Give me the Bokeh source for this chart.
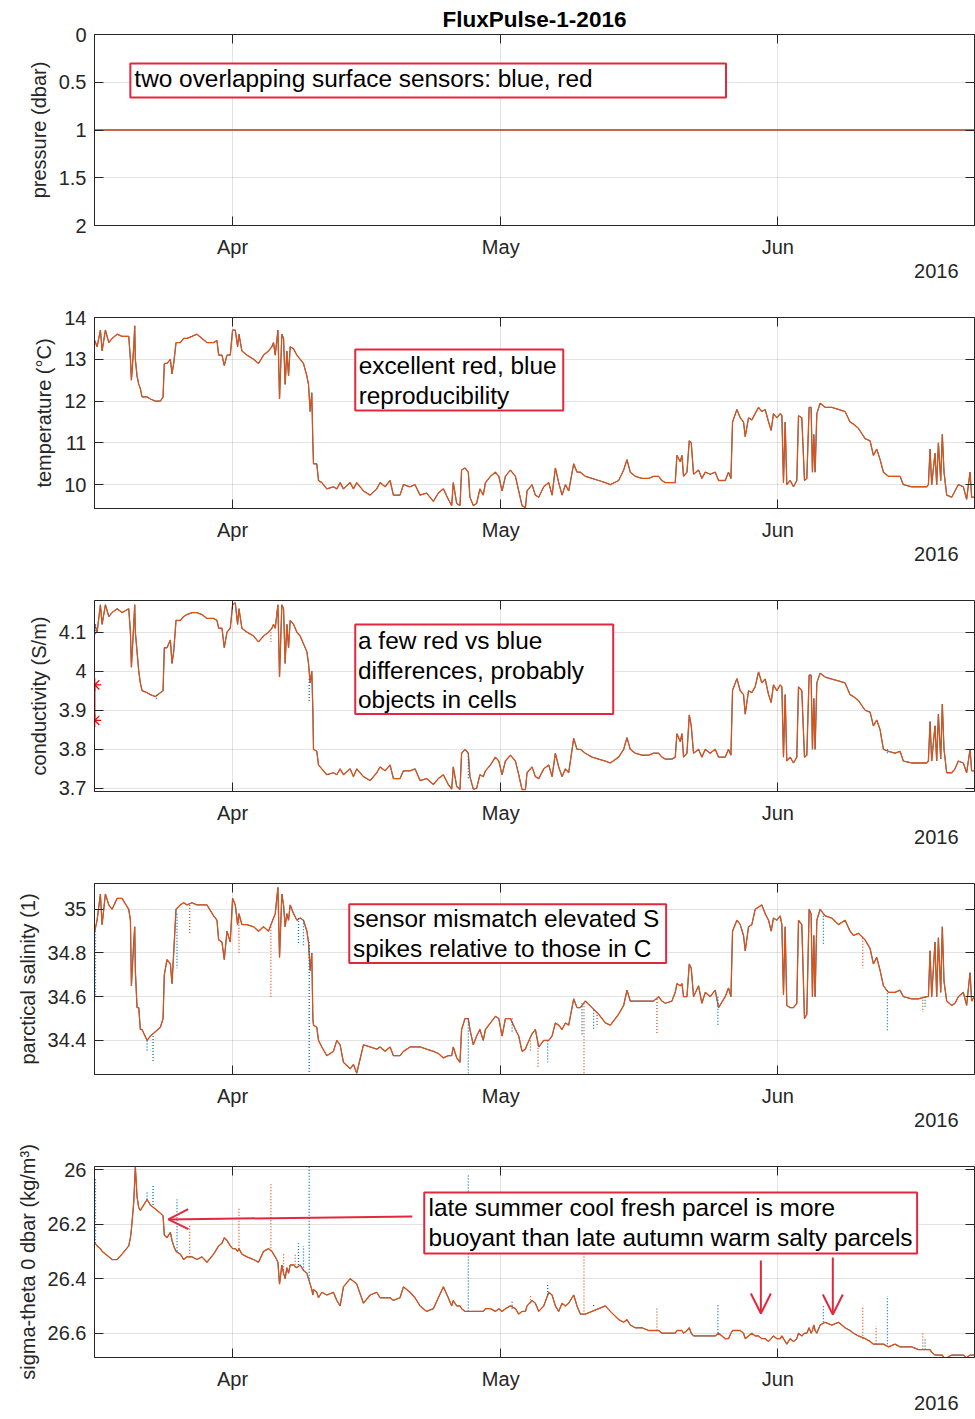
import numpy as np
import pandas as pd
from bokeh.plotting import figure
from bokeh.layouts import column
from bokeh.models import (Range1d, FixedTicker, CustomJSTickFormatter, DatetimeTickFormatter,
                          LinearAxis, DatetimeAxis, BoxAnnotation, Label, Arrow, OpenHead, Title)
from bokeh.embed import file_html
from bokeh.resources import INLINE

# ---------------- data (time in days from 2016-04-01 00:00) ----------------
t_left = [-15.42, -15.16, -14.79, -14.6, -14.23, -13.85, -13.48, -12.92, -12.37, -11.62,
          -11.43, -11.32, -11.06, -10.95, -10.88, -10.69, -10.5, -10.32, -10.13, -9.57,
          -9.2, -8.64, -8.08, -7.78, -7.64, -7.34, -6.96, -6.78, -6.59, -6.33,
          -5.85, -5.47, -5.1, -4.54, -3.99, -3.43, -2.87, -2.12, -1.75, -1.56,
          -1.19, -0.93, -0.63, -0.26, 0.0, 0.3, 0.56, 0.71, 1.04, 1.6,
          2.35, 2.9, 3.46, 4.02, 4.39, 4.58, 4.77, 5.07, 5.25, 5.51,
          5.7, 5.88, 6.07, 6.26, 6.44, 6.82, 7.19, 7.56, 7.93, 8.31,
          8.49, 8.68, 8.86, 8.98, 9.05, 9.42, 9.61, 9.98, 10.54, 11.28,
          11.66, 12.03, 12.4, 13.15, 13.52, 13.89, 14.64, 15.38, 16.13, 16.5,
          17.06, 17.62, 17.99, 18.73, 19.11, 19.85, 20.41, 20.97, 21.71, 22.46,
          23.02, 23.58, 24.13, 24.51, 24.69, 25.07, 25.44, 25.62, 26.0, 26.37,
          26.55, 26.93, 27.3, 27.67, 28.04]
t_right = [28.29, 28.85, 29.4, 29.78, 30.15, 30.52, 31.08, 31.64, 32.01, 32.38,
           32.76, 32.94, 33.5, 33.87, 34.25, 34.81, 35.37, 35.74, 36.11, 36.48,
           36.86, 37.23, 37.6, 38.16, 38.53, 38.9, 39.46, 40.21, 40.95, 41.7,
           42.26, 43.19, 43.75, 44.12, 44.49, 45.05, 45.8, 46.54, 47.1, 47.66,
           48.03, 48.41, 49.15, 49.52, 49.71, 50.08, 50.27, 50.45, 50.83, 51.09,
           51.31, 51.57, 52.13, 52.5, 52.88, 53.43, 53.99, 54.37, 55.11, 55.48,
           55.75, 55.93, 56.42, 56.79, 57.16, 57.35, 57.72, 58.09, 58.46, 58.84,
           59.21, 59.58, 59.96, 60.25, 60.51, 60.89, 61.26, 61.45, 61.63, 61.82,
           62.0, 62.38, 62.75, 63.12, 63.31, 63.68, 63.98, 64.24, 64.5, 64.72,
           64.87, 65.02, 65.17, 65.36, 65.73, 66.29, 67.03, 67.78, 68.52, 69.08,
           69.46, 70.01, 70.76, 71.32, 71.69, 72.06, 72.44, 72.81, 73.37, 74.11,
           74.67, 75.04, 75.98, 76.72, 77.65, 77.84, 78.03, 78.21, 78.58, 78.77,
           78.96, 79.22, 79.4, 79.59, 79.89, 80.45, 80.82, 81.19, 81.75, 82.12,
           82.5, 82.68, 82.98]

temp_left = [13.45, 13.3, 13.7, 13.2, 13.7, 13.4, 13.5, 13.6, 13.55, 13.55,
             13.0, 12.5, 13.3, 13.8, 13.0, 12.6, 12.4, 12.3, 12.1, 12.1,
             12.05, 12.0, 12.0, 12.1, 12.9, 12.9, 13.0, 12.65, 12.9, 13.4,
             13.4, 13.5, 13.5, 13.55, 13.6, 13.5, 13.4, 13.4, 13.45, 13.1,
             13.1, 12.85, 13.1, 13.1, 13.7, 13.7, 13.3, 13.6, 13.2, 13.1,
             13.0, 12.9, 13.1, 13.2, 13.3, 13.4, 13.1, 13.7, 12.05, 13.6,
             13.5, 12.4, 13.2, 12.6, 13.3, 13.25, 13.1, 13.0, 12.9, 12.6,
             12.4, 11.75, 12.2, 11.0, 10.5, 10.5, 10.1, 10.05, 9.9, 9.95,
             9.9, 10.05, 9.9, 10.05, 9.9, 10.05, 9.85, 9.75, 9.9, 10.05,
             9.95, 10.1, 9.75, 9.75, 10.0, 9.95, 10.0, 9.75, 9.8, 9.6,
             9.8, 9.9, 9.65, 9.5, 10.05, 9.55, 9.5, 10.35, 10.4, 10.3,
             9.7, 9.5, 9.55, 9.9, 9.75]
temp_right = [10.05, 10.2, 10.3, 10.2, 9.85, 10.2, 10.35, 10.2, 9.85, 9.5,
              9.45, 9.85, 10.0, 9.75, 9.7, 9.95, 10.05, 9.75, 10.4, 10.05,
              9.75, 10.0, 9.85, 10.5, 10.3, 10.3, 10.2, 10.15, 10.1, 10.05,
              10.0, 10.1, 10.35, 10.6, 10.3, 10.2, 10.15, 10.15, 10.2, 10.2,
              10.1, 10.05, 10.05, 10.05, 10.7, 10.55, 10.7, 10.2, 10.3, 11.05,
              11.0, 10.25, 10.35, 10.15, 10.3, 10.25, 10.3, 10.1, 10.1, 10.3,
              10.15, 11.5, 11.8, 11.6, 11.5, 11.15, 11.6, 11.55, 11.7, 11.85,
              11.75, 11.8, 11.5, 11.3, 11.7, 11.6, 11.7, 11.65, 10.05, 11.5,
              10.0, 10.1, 9.95, 10.1, 11.65, 11.6, 10.1, 10.15, 11.85, 11.85,
              10.3, 11.2, 10.3, 11.7, 11.95, 11.85, 11.85, 11.8, 11.75, 11.5,
              11.45, 11.35, 11.1, 11.05, 10.7, 10.85, 10.6, 10.3, 10.2, 10.2,
              10.2, 10.0, 9.95, 9.95, 9.95, 10.0, 10.85, 10.0, 10.75, 10.0,
              11.0, 10.1, 11.2, 10.3, 9.75, 9.7, 9.85, 10.0, 9.95, 9.65,
              10.3, 9.7, 9.7]

cond_left = [4.12, 4.10, 4.17, 4.12, 4.17, 4.14, 4.15, 4.16, 4.15, 4.16,
             4.10, 4.01, 4.12, 4.17, 4.10, 4.05, 4.0, 3.97, 3.95, 3.945,
             3.94, 3.935, 3.945, 3.95, 4.06, 4.06, 4.08, 4.02, 4.05, 4.13,
             4.13, 4.14, 4.145, 4.15, 4.15, 4.145, 4.135, 4.135, 4.13, 4.11,
             4.11, 4.06, 4.1, 4.11, 4.17, 4.175, 4.12, 4.16, 4.11, 4.1,
             4.09, 4.075, 4.09, 4.1, 4.11, 4.12, 4.11, 4.17, 3.985, 4.17,
             4.16, 4.02, 4.12, 4.06, 4.13, 4.12, 4.1, 4.09, 4.07, 4.05,
             4.02, 3.97, 4.0, 3.9, 3.8, 3.795, 3.76, 3.75, 3.735, 3.74,
             3.735, 3.75, 3.735, 3.75, 3.73, 3.75, 3.73, 3.72, 3.74, 3.755,
             3.745, 3.76, 3.725, 3.725, 3.745, 3.745, 3.75, 3.72, 3.725, 3.71,
             3.725, 3.735, 3.71, 3.698, 3.755, 3.705, 3.697, 3.79, 3.8, 3.79,
             3.73, 3.698, 3.7, 3.735, 3.73]
cond_right = [3.745, 3.76, 3.78, 3.77, 3.735, 3.77, 3.785, 3.77, 3.735, 3.697,
              3.697, 3.74, 3.755, 3.73, 3.725, 3.75, 3.76, 3.73, 3.79, 3.755,
              3.73, 3.75, 3.74, 3.828, 3.8, 3.8, 3.79, 3.78, 3.775, 3.77,
              3.765, 3.78, 3.8, 3.83, 3.8, 3.79, 3.785, 3.785, 3.79, 3.79,
              3.78, 3.775, 3.775, 3.78, 3.84, 3.82, 3.84, 3.78, 3.79, 3.888,
              3.86, 3.79, 3.8, 3.78, 3.8, 3.79, 3.8, 3.78, 3.78, 3.8,
              3.785, 3.951, 3.981, 3.95, 3.94, 3.89, 3.95, 3.945, 3.96, 3.998,
              3.97, 3.98, 3.94, 3.92, 3.965, 3.95, 3.965, 3.96, 3.78, 3.94,
              3.77, 3.78, 3.765, 3.78, 3.96, 3.95, 3.78, 3.785, 3.99, 3.99,
              3.8, 3.93, 3.8, 3.97, 3.995, 3.985, 3.98, 3.975, 3.97, 3.94,
              3.935, 3.925, 3.9, 3.895, 3.86, 3.875, 3.85, 3.8, 3.795, 3.79,
              3.795, 3.77, 3.765, 3.765, 3.765, 3.77, 3.871, 3.77, 3.86, 3.77,
              3.89, 3.775, 3.916, 3.8, 3.74, 3.74, 3.75, 3.77, 3.765, 3.74,
              3.8, 3.745, 3.745]

sal_left = [34.9, 34.95, 35.07, 34.93, 35.07, 35.02, 35.0, 35.05, 35.05, 35.0,
            34.95, 34.65, 34.85, 34.92, 34.72, 34.55, 34.55, 34.45, 34.45, 34.4,
            34.42, 34.44, 34.46, 34.5, 34.7, 34.77, 34.75, 34.66, 34.8, 35.0,
            35.02, 35.03, 35.02, 35.03, 35.02, 35.02, 35.02, 34.97, 34.95, 34.86,
            34.85, 34.77, 34.9, 34.85, 35.05, 35.02, 34.93, 34.98, 34.93, 34.93,
            34.92, 34.9, 34.92, 34.9, 34.94, 34.96, 34.98, 35.1, 34.78, 35.07,
            35.02, 34.92, 34.98, 34.95, 35.02, 34.98, 34.95, 34.96, 34.95, 34.9,
            34.85, 34.72, 34.8, 34.5, 34.47, 34.46, 34.4, 34.37, 34.33, 34.35,
            34.4, 34.38, 34.3, 34.27, 34.29, 34.25, 34.38, 34.37, 34.36, 34.37,
            34.35, 34.37, 34.33, 34.33, 34.35, 34.37, 34.37, 34.37, 34.36, 34.35,
            34.34, 34.32, 34.33, 34.33, 34.37, 34.32, 34.3, 34.45, 34.5, 34.5,
            34.45, 34.38, 34.42, 34.45, 34.4]
sal_right = [34.45, 34.48, 34.51, 34.5, 34.42, 34.5, 34.5, 34.45, 34.42, 34.35,
             34.36, 34.38, 34.43, 34.45, 34.37, 34.4, 34.4, 34.42, 34.48, 34.47,
             34.45, 34.48, 34.47, 34.59, 34.55, 34.55, 34.58, 34.55, 34.52, 34.48,
             34.47, 34.52, 34.56, 34.63, 34.58, 34.58, 34.58, 34.58, 34.58, 34.6,
             34.58, 34.57, 34.58, 34.62, 34.66, 34.65, 34.66, 34.6, 34.6, 34.75,
             34.73, 34.6, 34.65, 34.57, 34.62, 34.6, 34.63, 34.55, 34.6, 34.64,
             34.6, 34.9, 34.95, 34.93, 34.88, 34.81, 34.92, 34.93, 35.0, 35.01,
             35.02, 34.98, 34.95, 34.9, 34.96, 34.95, 34.97, 34.93, 34.61, 34.92,
             34.56, 34.55, 34.55, 34.57, 34.95, 34.93, 34.5, 34.52, 35.0, 34.98,
             34.6, 34.88, 34.6, 34.95, 35.0, 34.97, 34.96, 34.93, 34.95, 34.9,
             34.88, 34.89, 34.86, 34.82, 34.75, 34.78, 34.72, 34.65, 34.62, 34.62,
             34.63, 34.6, 34.59, 34.59, 34.6, 34.6, 34.81, 34.6, 34.85, 34.6,
             34.87, 34.62, 34.92, 34.67, 34.58, 34.56, 34.57, 34.6, 34.62, 34.56,
             34.71, 34.58, 34.6]

sig_left = [26.27, 26.28, 26.29, 26.3, 26.31, 26.32, 26.33, 26.33, 26.31, 26.28,
            26.25, 26.22, 26.12, 26.04, 25.99, 26.1, 26.14, 26.15, 26.14, 26.11,
            26.13, 26.145, 26.16, 26.17, 26.24, 26.25, 26.23, 26.26, 26.28, 26.3,
            26.31, 26.33, 26.32, 26.32, 26.33, 26.32, 26.34, 26.31, 26.29, 26.28,
            26.27, 26.25, 26.26, 26.28, 26.29, 26.29, 26.3, 26.29, 26.31, 26.32,
            26.33, 26.34, 26.3, 26.29, 26.3, 26.31, 26.32, 26.34, 26.42, 26.35,
            26.38, 26.4, 26.36, 26.38, 26.35, 26.35, 26.36, 26.35, 26.37, 26.38,
            26.4, 26.42, 26.44, 26.46, 26.44, 26.45, 26.47, 26.45, 26.46, 26.45,
            26.48, 26.5, 26.43, 26.4, 26.41, 26.42, 26.49, 26.46, 26.45, 26.47,
            26.47, 26.47, 26.48, 26.47, 26.43, 26.45, 26.47, 26.5, 26.52, 26.51,
            26.47, 26.43, 26.47, 26.5, 26.48, 26.5, 26.5, 26.51, 26.52, 26.52,
            26.52, 26.52, 26.52, 26.52, 26.52]
sig_right = [26.51, 26.51, 26.52, 26.51, 26.52, 26.51, 26.5, 26.51, 26.53, 26.52,
             26.52, 26.5, 26.48, 26.49, 26.52, 26.5, 26.45, 26.46, 26.5, 26.52,
             26.49, 26.5, 26.49, 26.46, 26.5, 26.53, 26.53, 26.52, 26.51, 26.5,
             26.52, 26.55, 26.56, 26.55, 26.57, 26.58, 26.58, 26.59, 26.59, 26.59,
             26.6, 26.6, 26.6, 26.6, 26.59, 26.59, 26.59, 26.6, 26.59, 26.58,
             26.6, 26.61, 26.61, 26.61, 26.61, 26.61, 26.61, 26.6, 26.62, 26.62,
             26.6, 26.59, 26.59, 26.59, 26.6, 26.62, 26.61, 26.6, 26.61, 26.61,
             26.62, 26.62, 26.63, 26.62, 26.61, 26.62, 26.62, 26.61, 26.62, 26.63,
             26.64, 26.62, 26.63, 26.62, 26.6, 26.61, 26.6, 26.6, 26.58, 26.6,
             26.59, 26.57, 26.59, 26.6, 26.57, 26.56, 26.57, 26.56, 26.58, 26.59,
             26.6, 26.61, 26.62, 26.63, 26.64, 26.64, 26.64, 26.64, 26.65, 26.64,
             26.65, 26.65, 26.65, 26.66, 26.66, 26.66, 26.66, 26.67, 26.68, 26.68,
             26.68, 26.68, 26.68, 26.69, 26.69, 26.68, 26.68, 26.68, 26.68, 26.69,
             26.68, 26.68, 26.68]

# pressure of both surface sensors
pres_t = [-15.42, 82.98]
pres_blue = [1.0, 1.0]
pres_red = [1.0, 1.0]

# isolated single-sensor spikes (time, series value, spike tip)
cond_spk_blue_t = [-15.34, -8.5, 8.57, 26.37, 73.26]
cond_spk_blue_base = [4.12, 3.94, 3.98, 3.79, 3.8]
cond_spk_blue_tip = [4.09, 3.926, 3.92, 3.726, 3.785]
cond_spk_red_t = [4.28]
cond_spk_red_base = [4.1]
cond_spk_red_tip = [4.075]

sal_spk_blue_t = [-15.34, -9.57, -8.9, -6.22, 7.37, 7.93, 8.57, 26.37, 31.27, 35.25,
                  39.09, 40.39, 54.29, 66.1, 73.26, 77.47]
sal_spk_blue_base = [34.9, 34.4, 34.42, 34.98, 34.96, 34.95, 34.85, 34.5, 34.5, 34.4,
                     34.57, 34.54, 34.6, 34.97, 34.63, 34.6]
sal_spk_blue_tip = [34.6, 34.35, 34.3, 34.73, 34.84, 34.83, 34.25, 34.25, 34.44, 34.3,
                    34.42, 34.45, 34.47, 34.84, 34.44, 34.55]
sal_spk_red_t = [-4.8, 0.71, 4.28, 33.32, 34.17, 39.31, 40.77, 47.47, 70.5, 77.21]
sal_spk_red_base = [35.02, 34.97, 34.92, 34.4, 34.38, 34.57, 34.53, 34.59, 34.87, 34.6]
sal_spk_red_tip = [34.89, 34.8, 34.6, 34.35, 34.27, 34.25, 34.46, 34.43, 34.73, 34.53]

sig_spk_blue_t = [-15.34, -9.57, -8.9, -6.22, 7.37, 7.93, 8.57, 26.37, 31.27, 35.25,
                  40.39, 54.29, 66.1, 73.26, 77.47]
sig_spk_blue_base = [26.27, 26.11, 26.13, 26.3, 26.35, 26.37, 26.4, 26.52, 26.51, 26.46,
                     26.5, 26.6, 26.56, 26.64, 26.66]
sig_spk_blue_tip = [26.03, 26.08, 26.06, 26.11, 26.27, 26.28, 25.99, 26.02, 26.48, 26.415,
                    26.495, 26.495, 26.495, 26.464, 26.623]
sig_spk_red_t = [-4.8, 0.71, 4.28, 5.7, 7.0, 33.32, 39.31, 47.47, 70.5, 71.99, 77.21]
sig_spk_red_base = [26.32, 26.29, 26.3, 26.38, 26.36, 26.49, 26.52, 26.59, 26.62, 26.64, 26.66]
sig_spk_red_tip = [26.205, 26.14, 26.05, 26.31, 26.305, 26.46, 26.31, 26.507, 26.507, 26.574, 26.596]

# red reference-cast points on conductivity axis
star_t = [-15.42, -15.42]
star_c = [3.965, 3.874]

# ---------------- helpers ----------------
APR1 = pd.Timestamp("2016-04-01")


def to_dt(days):
    return (APR1 + pd.to_timedelta(np.asarray(days, dtype=float), unit="D")).values


def ms(d):
    return (APR1 + pd.Timedelta(days=d)).value / 1e6


t_all = to_dt(t_left + t_right)
XS, XE = ms(-15.45), ms(83.0)
MONTH_TICKS = [ms(0), ms(30), ms(61)]

FONT = "Liberation Sans"
AX = "#262626"
BLUE = "#0072BD"
RED = "#D95319"
NOTE = "#E3283E"


def style_axis(ax):
    ax.major_tick_in = 9
    ax.major_tick_out = 0
    ax.minor_tick_line_color = None
    ax.major_tick_line_color = AX
    ax.major_tick_line_width = 1
    ax.axis_line_color = AX
    ax.major_label_text_font = FONT
    ax.major_label_text_font_size = "20px"
    ax.major_label_text_color = AX
    ax.axis_label_text_font = FONT
    ax.axis_label_text_font_size = "20px"
    ax.axis_label_text_font_style = "normal"
    ax.axis_label_text_color = AX


def make_fig(ylabel, yr, yticks, top, bottom):
    p = figure(frame_width=880, frame_height=191, x_axis_type="datetime",
               x_range=Range1d(XS, XE), y_range=Range1d(*yr),
               output_backend="svg", toolbar_location=None,
               min_border_left=94, min_border_right=1,
               min_border_top=top, min_border_bottom=bottom,
               background_fill_color="white", border_fill_color="white")
    p.outline_line_color = AX
    p.outline_line_alpha = 1
    p.outline_line_width = 1
    xa = p.xaxis[0]
    ya = p.yaxis[0]
    style_axis(xa)
    style_axis(ya)
    xa.ticker = FixedTicker(ticks=MONTH_TICKS)
    xa.formatter = DatetimeTickFormatter(microseconds="%b", milliseconds="%b", seconds="%b",
                                         minsec="%b", minutes="%b", hourmin="%b", hours="%b",
                                         days="%b", months="%b", years="%b")
    xa.major_label_standoff = 10
    ya.ticker = FixedTicker(ticks=yticks)
    ya.formatter = CustomJSTickFormatter(code="return String(tick);")
    ya.major_label_standoff = 8
    ya.axis_label = ylabel
    ya.axis_label_standoff = 6
    for g in (p.xgrid[0], p.ygrid[0]):
        g.grid_line_color = AX
        g.grid_line_alpha = 0.13
    # mirrored tick marks on the right and top
    ra = LinearAxis(ticker=FixedTicker(ticks=yticks),
                    formatter=CustomJSTickFormatter(code="return '';"))
    style_axis(ra)
    ra.axis_line_color = None
    ra.major_label_text_font_size = "1px"
    ra.major_label_standoff = 0
    p.add_layout(ra, "right")
    ta = DatetimeAxis(ticker=FixedTicker(ticks=MONTH_TICKS),
                      formatter=CustomJSTickFormatter(code="return '';"))
    style_axis(ta)
    ta.axis_line_color = None
    ta.major_label_text_font_size = "1px"
    ta.major_label_standoff = 0
    p.add_layout(ta, "above")
    yr_t = Title(text="2016", align="right", offset=16, standoff=2,
                 text_font=FONT, text_font_size="20px", text_font_style="normal",
                 text_color=AX, text_line_height=1.0)
    p.add_layout(yr_t, "below")
    return p


def note_box(p, x0, x1, ya, yb, tx, ty, text):
    p.add_layout(BoxAnnotation(left=ms(x0), right=ms(x1), top=ya, bottom=yb,
                               fill_color="white", fill_alpha=1.0,
                               line_color=NOTE, line_width=2, line_alpha=1.0))
    p.add_layout(Label(x=ms(tx), y=ty, text=text, text_font=FONT, text_font_size="24.4px",
                       text_color="black", text_align="left", text_baseline="top",
                       text_line_height=1.08))


def add_series(p, yl, yr_, spk=None):
    p.line(t_all, yl, line_color=BLUE, line_width=1.0)
    p.line(t_all, yr_, line_color=RED, line_width=1.3)
    if spk:
        for (tt, b, tip, col) in spk:
            tx = to_dt(tt)
            p.segment(x0=tx, y0=b, x1=tx, y1=tip, line_color=col, line_width=1.3,
                      line_dash="1 2")


# ---------------- panels ----------------
p1 = make_fig("pressure (dbar)", (2, 0), [0, 0.5, 1, 1.5, 2], 34, 66)
p1.title.text = "FluxPulse-1-2016"
p1.title.align = "center"
p1.title.text_font = FONT
p1.title.text_font_size = "22.5px"
p1.title.text_font_style = "bold"
p1.title.text_color = "black"
p1.title.standoff = 6
p1.line(to_dt(pres_t), pres_blue, line_color=BLUE, line_width=1.0)
p1.line(to_dt(pres_t), pres_red, line_color=RED, line_width=1.3)
note_box(p1, -11.44, 55.2, 0.304, 0.66, -10.99, 0.315,
         "two overlapping surface sensors: blue, red")

temp_all = temp_left + temp_right
p2 = make_fig("temperature (°C)", (9.43, 14.0), [10, 11, 12, 13, 14], 26, 66)
add_series(p2, temp_all, temp_all)
note_box(p2, 13.72, 36.99, 13.235, 11.777, 14.1, 13.163,
         "excellent red, blue\nreproducibility")

cond_all = cond_left + cond_right
p3 = make_fig("conductivity (S/m)", (3.692, 4.181), [3.7, 3.8, 3.9, 4, 4.1], 26, 66)
add_series(p3, cond_all, cond_all,
           [(cond_spk_blue_t, cond_spk_blue_base, cond_spk_blue_tip, BLUE),
            (cond_spk_red_t, cond_spk_red_base, cond_spk_red_tip, RED)])
p3.line(to_dt(star_t), star_c, line_color="#FF0000", line_width=1.3)
p3.scatter(to_dt(star_t), star_c, marker="asterisk", size=13, line_color="#FF0000", line_width=1.2)
note_box(p3, 13.72, 42.58, 4.1196, 3.8903, 14.03, 4.112,
         "a few red vs blue\ndifferences, probably\nobjects in cells")

sal_all = sal_left + sal_right
p4 = make_fig("parctical salinity (1)", (34.244, 35.118), [34.4, 34.6, 34.8, 35], 26, 66)
add_series(p4, sal_all, sal_all,
           [(sal_spk_blue_t, sal_spk_blue_base, sal_spk_blue_tip, BLUE),
            (sal_spk_red_t, sal_spk_red_base, sal_spk_red_tip, RED)])
note_box(p4, 13.05, 48.5, 35.0228, 34.754, 13.47, 35.018,
         "sensor mismatch elevated S\nspikes relative to those in C")

sig_all = sig_left + sig_right
p5 = make_fig("sigma-theta 0 dbar (kg/m³)", (26.689, 25.989), [26, 26.2, 26.4, 26.6], 26, 62)
add_series(p5, sig_all, sig_all,
           [(sig_spk_blue_t, sig_spk_blue_base, sig_spk_blue_tip, BLUE),
            (sig_spk_red_t, sig_spk_red_base, sig_spk_red_tip, RED)])
note_box(p5, 21.44, 76.58, 26.0843, 26.3079, 21.92, 26.0916,
         "late summer cool fresh parcel is more\nbuoyant than late autumn warm salty parcels")
for (xs_, ys_, xe_, ye_) in [(20.1, 26.172, -7.19, 26.183),
                             (59.1, 26.3336, 59.1, 26.5279),
                             (67.15, 26.3226, 67.15, 26.5315)]:
    p5.add_layout(Arrow(end=OpenHead(size=20, line_color=NOTE, line_width=2),
                        x_start=ms(xs_), y_start=ys_, x_end=ms(xe_), y_end=ye_,
                        line_color=NOTE, line_width=2))

layout = column(p1, p2, p3, p4, p5)
open("out.html", "w").write(file_html(layout, INLINE))
